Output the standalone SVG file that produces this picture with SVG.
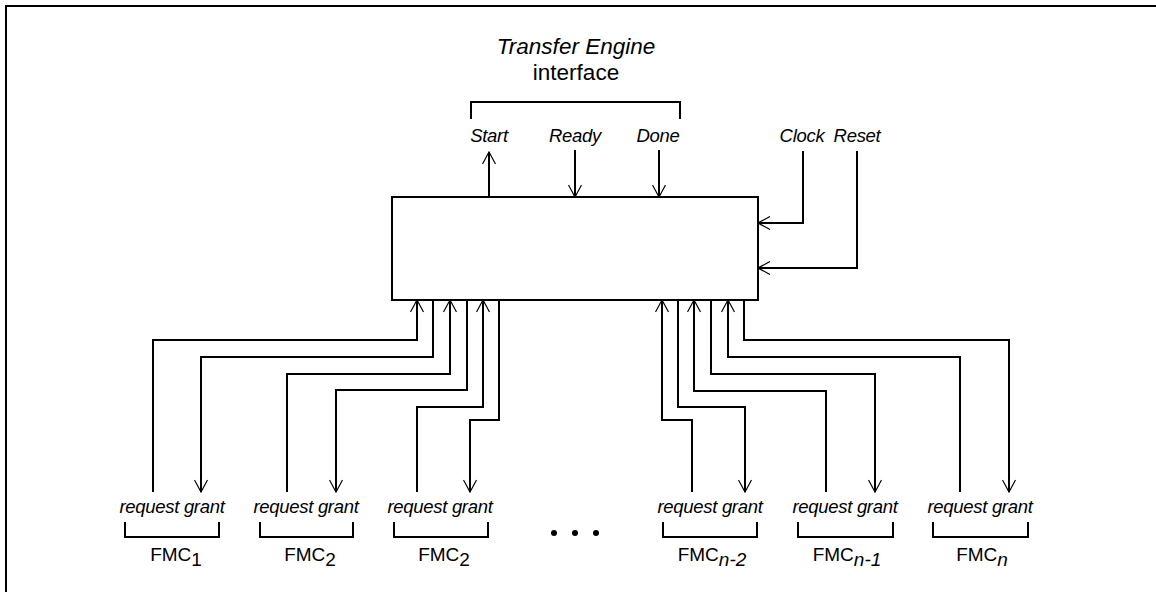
<svg xmlns="http://www.w3.org/2000/svg" width="1156" height="592" viewBox="0 0 1156 592">
<style>
.ln{fill:none;stroke:#000;stroke-width:2}
.t{font-family:"Liberation Sans",Arial,sans-serif;fill:#000}
.lb{font-size:18.5px;font-style:italic;text-anchor:middle;letter-spacing:-0.3px}
.fmc{font-size:19px;text-anchor:middle}
</style>
<defs>
<marker id="ah" markerUnits="userSpaceOnUse" viewBox="-13 -7 14 14" refX="0" refY="0" markerWidth="14" markerHeight="14" orient="auto">
<path d="M-12,-6.5 L0,0 L-12,6.5" fill="none" stroke="#000" stroke-width="1.2"/>
</marker>
</defs>
<path class="ln" d="M6,592 V6 H1156"/>
<g id="title">
<text class="t" x="576" y="54" font-size="22.5" font-style="italic" text-anchor="middle">Transfer Engine</text>
<text class="t" x="576" y="80" font-size="22.5" text-anchor="middle">interface</text>
<path class="ln" d="M471,119 V102 H680 V119"/>
</g>
<g id="controller">
<rect class="ln" x="392" y="197" width="366" height="103"/>
</g>
<g id="signals">
<text class="t lb" x="489" y="142">Start</text>
<text class="t lb" x="575" y="142">Ready</text>
<text class="t lb" x="658" y="142">Done</text>
<text class="t lb" x="802" y="142">Clock</text>
<text class="t lb" x="857" y="142">Reset</text>
</g>
<g id="connectors" class="ln" marker-end="url(#ah)">
<path d="M489,197 V152"/>
<path d="M575,150 V197"/>
<path d="M659,150 V197"/>
<path d="M803,151 V223 H758"/>
<path d="M857,151 V268 H758"/>
<path d="M153,492 V340 H417 V300"/>
<path d="M433,300 V357 H201 V492"/>
<path d="M287,492 V374 H450 V300"/>
<path d="M467,300 V390 H336 V492"/>
<path d="M417,492 V407 H483 V300"/>
<path d="M499,300 V420 H470 V492"/>
<path d="M692,492 V420 H662 V300"/>
<path d="M678,300 V407 H745 V492"/>
<path d="M826,492 V391 H694 V300"/>
<path d="M711,300 V374 H875 V492"/>
<path d="M960,492 V357 H728 V300"/>
<path d="M744,300 V340 H1009 V492"/>
</g>
<g id="fmc1">
<text class="t lb" x="172" y="513">request grant</text>
<path class="ln" d="M125,522 V537 H219 V522"/>
<text class="t fmc" x="176" y="561">FMC<tspan dy="5">1</tspan></text>
</g>
<g id="fmc2">
<text class="t lb" x="306" y="513">request grant</text>
<path class="ln" d="M260,522 V537 H353 V522"/>
<text class="t fmc" x="310" y="561">FMC<tspan dy="5">2</tspan></text>
</g>
<g id="fmc3">
<text class="t lb" x="440" y="513">request grant</text>
<path class="ln" d="M394,522 V537 H488 V522"/>
<text class="t fmc" x="444" y="561">FMC<tspan dy="5">2</tspan></text>
</g>
<g id="ellipsis">
<circle cx="554" cy="533" r="3"/>
<circle cx="575" cy="533" r="3"/>
<circle cx="596" cy="533" r="3"/>
</g>
<g id="fmcn2">
<text class="t lb" x="710" y="513">request grant</text>
<path class="ln" d="M663,522 V537 H757 V522"/>
<text class="t fmc" x="712" y="561">FMC<tspan dy="5" font-style="italic">n-2</tspan></text>
</g>
<g id="fmcn1">
<text class="t lb" x="845" y="513">request grant</text>
<path class="ln" d="M798,522 V537 H893 V522"/>
<text class="t fmc" x="847" y="561">FMC<tspan dy="5" font-style="italic">n-1</tspan></text>
</g>
<g id="fmcn">
<text class="t lb" x="980" y="513">request grant</text>
<path class="ln" d="M933,522 V537 H1028 V522"/>
<text class="t fmc" x="982" y="561">FMC<tspan dy="5" font-style="italic">n</tspan></text>
</g>
</svg>
